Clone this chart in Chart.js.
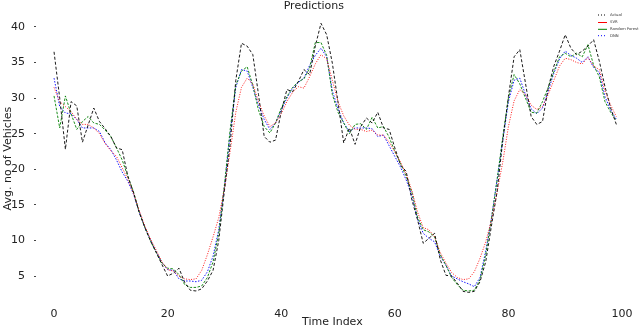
<!DOCTYPE html>
<html>
<head>
<meta charset="utf-8">
<script src="https://cdn.jsdelivr.net/npm/chart.js@4.4.1/dist/chart.umd.min.js"></script>
<style>
  html, body { margin: 0; padding: 0; background: #fff; }
  #wrap { width: 640px; height: 328px; position: relative; }
</style>
</head>
<body>
<div id="wrap"><canvas id="predictions"></canvas></div>
<script>
// Values (time index 0..99)
const timeIndex = Array.from({ length: 100 }, (_, i) => i);

const actualValues = [
    36.5, 30.0, 22.8, 29.5, 28.9, 23.8, 26.2, 28.6, 26.7, 25.7,
    24.6, 23.0, 22.75, 19.0, 16.7, 13.9, 11.8, 9.9, 8.3, 6.6,
    5.0, 5.4, 6.1, 4.1, 3.0, 2.9, 3.2, 4.3, 5.8, 10.0,
    17.0, 23.5, 32.5, 37.7, 37.3, 36.1, 30.5, 24.6, 23.8, 24.1,
    28.1, 31.2, 30.9, 32.3, 34.0, 33.3, 37.3, 40.5, 38.9, 34.9,
    29.4, 23.7, 25.8, 23.5, 26.0, 27.2, 26.5, 28.0, 25.8, 25.6,
    23.0, 20.6, 19.7, 15.7, 12.9, 9.6, 10.3, 11.0, 7.3, 5.1,
    5.0, 4.0, 2.85, 2.7, 2.85, 4.2, 7.0, 12.0, 16.8, 24.0,
    30.2, 35.8, 36.8, 32.1, 27.4, 26.3, 26.7, 31.4, 34.5, 36.6,
    38.9, 37.0, 36.1, 36.6, 37.3, 38.2, 35.2, 31.6, 28.6, 26.3
];

const svrValues = [
    31.5, 29.5, 28.8, 28.1, 27.0, 26.3, 26.3, 25.8, 25.0, 23.6,
    22.6, 21.8, 20.2, 18.6, 16.6, 14.2, 12.0, 10.2, 8.6, 7.0,
    5.9, 5.7, 5.0, 4.6, 4.5, 4.6, 5.8, 8.0, 10.5, 13.2,
    17.3, 22.5, 28.0, 31.5, 32.8, 32.0, 29.5, 27.5, 26.0, 26.5,
    27.8, 29.5, 30.8, 31.6, 31.4, 33.0, 34.8, 36.1, 35.5, 32.5,
    29.5, 27.5, 26.2, 25.6, 25.6, 25.3, 25.5, 24.8, 24.8, 23.8,
    22.5, 21.0, 19.3, 17.0, 14.0, 11.8, 11.5, 10.5, 8.3, 6.8,
    5.5, 4.8, 4.5, 4.6, 5.6, 7.5, 9.8, 12.8, 16.8, 21.0,
    26.0, 29.6, 31.2, 30.5, 29.0, 28.4, 28.8, 30.5, 32.5, 34.5,
    35.6, 35.4, 35.0, 34.8, 35.7, 34.5, 34.0, 31.0, 29.0, 27.4
];

const forestValues = [
    30.3, 25.8, 30.3, 27.8, 25.6, 26.7, 27.4, 26.5, 26.3, 25.5,
    24.6, 23.0, 21.3, 19.0, 16.8, 14.0, 11.8, 9.9, 8.3, 6.8,
    6.1, 6.0, 5.2, 3.8, 3.4, 3.4, 3.6, 4.8, 7.0, 11.0,
    17.8, 25.5, 31.8, 33.8, 34.4, 31.8, 28.3, 26.0, 25.1, 26.5,
    28.6, 30.2, 31.5, 32.3, 32.7, 34.2, 37.8, 37.8, 36.0, 30.5,
    28.0, 26.5, 25.0, 26.3, 26.4, 25.6, 27.3, 25.8, 26.0, 24.5,
    22.5, 20.8, 19.0, 16.8, 13.3, 11.5, 11.2, 10.5, 8.0, 6.5,
    4.8, 3.8, 3.0, 2.9, 3.0, 4.5, 8.0, 13.0, 18.5, 24.5,
    30.0, 33.3, 32.0, 30.0, 28.0, 27.9, 29.5, 31.5, 33.7, 35.8,
    36.3, 35.8, 36.3, 35.8, 37.5, 34.6, 33.0, 29.5, 28.0, 26.8
];

const dnnValues = [
    32.8, 28.8, 27.9, 27.8, 27.0, 25.8, 25.8, 25.8, 25.3, 23.7,
    22.75, 21.3, 19.6, 18.3, 16.5, 14.0, 11.8, 10.0, 8.4, 6.9,
    5.9, 5.8, 4.6, 4.3, 4.3, 4.2, 4.4, 5.6, 7.8, 11.5,
    17.5, 25.0, 31.5, 34.0, 33.8, 31.5, 29.0, 27.0, 25.6, 26.5,
    28.3, 30.0, 31.4, 32.2, 32.8, 34.6, 36.0, 37.0, 35.8, 31.0,
    28.5, 26.5, 25.3, 25.8, 25.8, 25.8, 25.7, 24.6, 24.8, 23.3,
    21.8, 20.3, 18.5, 16.3, 13.0, 11.0, 10.3, 9.8, 7.8, 6.5,
    5.0, 4.6, 4.2, 3.9, 3.5, 4.8, 8.5, 13.0, 18.5, 24.0,
    29.5, 32.5, 32.8, 30.5, 28.5, 27.8, 28.6, 31.0, 33.5, 35.5,
    36.6, 36.0, 35.6, 35.0, 35.8, 34.3, 33.6, 30.2, 28.3, 27.0
];

const seriesNames = ['Actual', 'SVR', 'Random Forest', 'DNN'];
const xTicks = [0, 20, 40, 60, 80, 100];
const yTicks = [5, 10, 15, 20, 25, 30, 35, 40];

function toPoints(values) {
    return values.map((v, i) => ({ x: timeIndex[i], y: v }));
}

// Small legend drawn inside the plot, top right corner
const cornerLegend = {
    id: 'cornerLegend',
    afterDraw(chart) {
        const ctx = chart.ctx;
        const rows = [15, 22.5, 29.3, 35.7];
        ctx.save();
        ctx.font = '3.8px "DejaVu Sans"';
        ctx.textBaseline = 'middle';
        ctx.fillStyle = '#333';
        chart.data.datasets.forEach(function(ds, i) {
            const y = rows[i];
            ctx.strokeStyle = ds.borderColor;
            ctx.lineWidth = 1;
            ctx.setLineDash(i === 1 || i === 2 ? [] : [1, 2]);
            ctx.beginPath();
            ctx.moveTo(598, y);
            ctx.lineTo(607, y);
            ctx.stroke();
            ctx.fillText(ds.label, 610, y);
        });
        ctx.restore();
    }
};

const axisFont = { family: '"DejaVu Sans"', size: 11 };

new Chart(document.getElementById('predictions'), {
    type: 'line',
    data: {
        datasets: [
            {
                label: seriesNames[0],
                data: toPoints(actualValues),
                borderColor: '#000000',
                borderWidth: 0.9,
                borderDash: [3, 2]
            },
            {
                label: seriesNames[1],
                data: toPoints(svrValues),
                borderColor: '#ff0000',
                borderWidth: 0.9,
                borderDash: [1, 1.5]
            },
            {
                label: seriesNames[2],
                data: toPoints(forestValues),
                borderColor: '#008000',
                borderWidth: 0.9,
                borderDash: [2.5, 1.5]
            },
            {
                label: seriesNames[3],
                data: toPoints(dnnValues),
                borderColor: '#0000ff',
                borderWidth: 0.9,
                borderDash: [1.5, 1.5]
            }
        ]
    },
    options: {
        responsive: true,
        maintainAspectRatio: false,
        animation: false,
        events: [],
        elements: {
            point: { radius: 0 },
            line: { tension: 0 }
        },
        layout: {
            padding: { left: 0, right: 12.3, top: 0, bottom: 0 }
        },
        scales: {
            x: {
                type: 'linear',
                min: -3,
                max: 101,
                afterBuildTicks: function(axis) {
                    axis.ticks = xTicks.map(v => ({ value: v }));
                },
                afterFit: function(axis) {
                    axis.height = 23.5;
                },
                grid: { display: false, drawTicks: false },
                border: { display: false },
                ticks: {
                    font: axisFont,
                    color: '#222',
                    padding: 3,
                    maxRotation: 0
                },
                title: {
                    display: true,
                    text: 'Time Index',
                    font: axisFont,
                    color: '#222',
                    padding: { top: 0, bottom: -1 }
                }
            },
            y: {
                min: 1,
                max: 42,
                afterBuildTicks: function(axis) {
                    axis.ticks = yTicks.map(v => ({ value: v }));
                },
                afterFit: function(axis) {
                    axis.width = 37;
                },
                grid: {
                    display: true,
                    drawOnChartArea: false,
                    drawTicks: true,
                    tickLength: 12,
                    tickColor: '#444',
                    tickBorderDash: [0, 9, 2, 100]
                },
                border: { display: false },
                ticks: {
                    font: axisFont,
                    color: '#222',
                    padding: 0
                },
                title: {
                    display: true,
                    text: 'Avg. no of Vehicles',
                    font: axisFont,
                    color: '#222',
                    padding: { top: 2, bottom: 0 }
                }
            }
        },
        plugins: {
            legend: { display: false },
            tooltip: { enabled: false },
            title: {
                display: true,
                text: 'Predictions',
                font: { family: '"DejaVu Sans"', size: 11, weight: 'normal', lineHeight: 1.15 },
                color: '#222',
                padding: { top: 0, bottom: 0 }
            }
        }
    },
    plugins: [cornerLegend]
});
</script>
</body>
</html>
